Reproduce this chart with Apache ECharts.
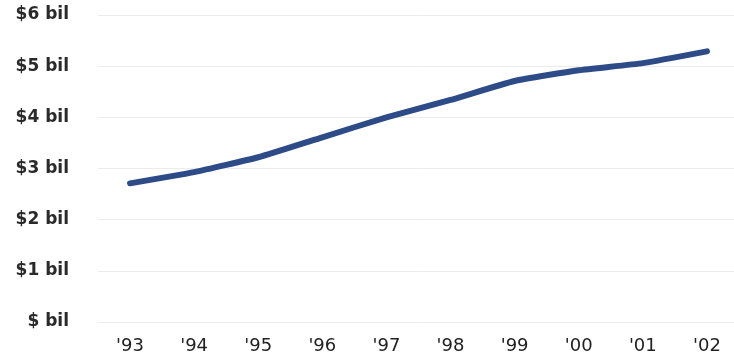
<!DOCTYPE html>
<html>
<head>
<meta charset="utf-8">
<script src="https://cdn.jsdelivr.net/npm/echarts@6/dist/echarts.min.js"></script>
<style>
    html, body {margin: 0; padding: 0; background: #fff;}
    #chart {width: 734px; height: 356px;}
</style>
</head>
<body>
<div id="chart"></div>
<script>
// data
var years = ["'93", "'94", "'95", "'96", "'97", "'98", "'99", "'00", "'01", "'02"];
var spending = [2.71, 2.93, 3.22, 3.61, 4.00, 4.34, 4.71, 4.92, 5.06, 5.29];
var yTickLabels = ['$ bil', '$1 bil', '$2 bil', '$3 bil', '$4 bil', '$5 bil', '$6 bil'];

var myChart = echarts.init(document.getElementById('chart'));

var option = {
    animation: false,
    grid: {
        left: 98,
        top: 15,
        width: 641,
        bottom: 34,
        outerBoundsMode: 'none'
    },
    xAxis: {
        type: 'category',
        data: years,
        boundaryGap: true,
        axisLine: {show: false},
        axisTick: {show: false},
        axisLabel: {
            color: '#222',
            fontSize: 18,
            fontFamily: 'DejaVu Sans',
            margin: 15
        }
    },
    yAxis: {
        type: 'value',
        min: 0,
        max: 6,
        interval: 1,
        axisLine: {show: false},
        axisTick: {show: false},
        splitLine: {lineStyle: {color: '#ececec', width: 1}},
        axisLabel: {
            color: '#2a2a2a',
            fontSize: 17,
            fontWeight: 'bold',
            fontFamily: 'DejaVu Sans',
            margin: 29,
            formatter: function (v) {
                return yTickLabels[Math.round(v)];
            }
        }
    },
    series: [{
        type: 'line',
        data: spending,
        smooth: 0.15,
        symbol: 'none',
        lineStyle: {
            color: '#2D4B87',
            width: 6,
            cap: 'round',
            join: 'round'
        }
    }]
};

myChart.setOption(option);
</script>
</body>
</html>
